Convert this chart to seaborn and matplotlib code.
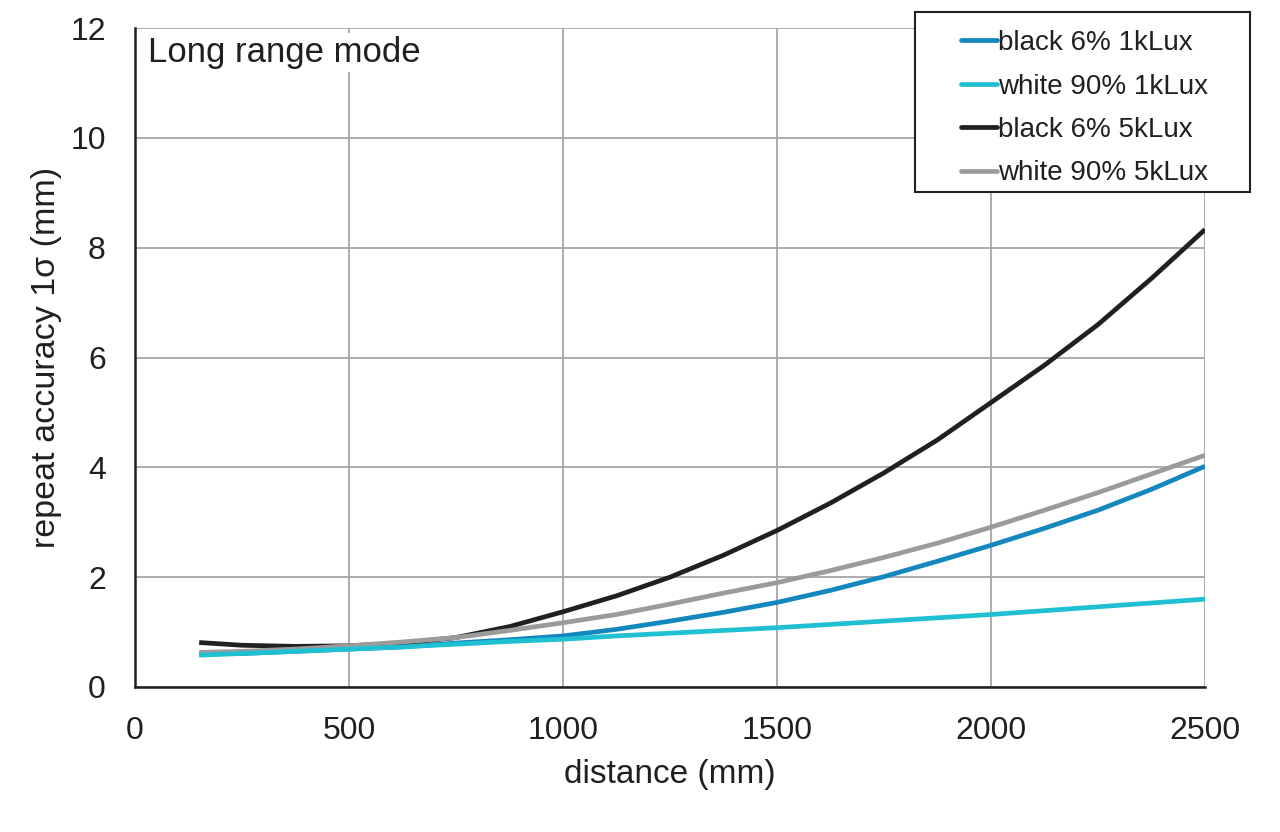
import matplotlib
matplotlib.use("Agg")
import matplotlib.pyplot as plt
from matplotlib.patches import Rectangle
import pandas as pd
import seaborn as sns

distance = [150, 250, 375, 500, 625, 750, 875, 1000, 1125, 1250,
            1375, 1500, 1625, 1750, 1875, 2000, 2125, 2250, 2375, 2500]

black_1k = [0.60, 0.61, 0.65, 0.69, 0.73, 0.80, 0.86, 0.93, 1.05, 1.20,
            1.36, 1.54, 1.76, 2.01, 2.29, 2.58, 2.89, 3.22, 3.60, 4.02]
white_1k = [0.58, 0.61, 0.65, 0.69, 0.73, 0.78, 0.83, 0.87, 0.93, 0.98,
            1.03, 1.08, 1.14, 1.20, 1.26, 1.32, 1.39, 1.46, 1.53, 1.60]
black_5k = [0.81, 0.76, 0.74, 0.75, 0.80, 0.90, 1.10, 1.37, 1.66, 2.00,
            2.40, 2.85, 3.35, 3.90, 4.50, 5.18, 5.86, 6.60, 7.44, 8.33]
white_5k = [0.63, 0.65, 0.69, 0.75, 0.82, 0.90, 1.03, 1.17, 1.32, 1.51,
            1.71, 1.90, 2.12, 2.36, 2.62, 2.91, 3.22, 3.54, 3.88, 4.22]

labels = ["black 6% 1kLux", "white 90% 1kLux", "black 6% 5kLux", "white 90% 5kLux"]
colors = ["#1487bf", "#20c0d3", "#231f20", "#9b9b9b"]

frames = []
for lab, vals in zip(labels, [black_1k, white_1k, black_5k, white_5k]):
    frames.append(pd.DataFrame({"distance": distance, "acc": vals, "series": lab}))
df = pd.concat(frames, ignore_index=True)

sns.set_style("white")
plt.rcParams["font.family"] = ["Liberation Sans", "DejaVu Sans"]

fig = plt.figure(figsize=(12.8, 8.32), dpi=100)
ax = fig.add_axes([135 / 1280, 1 - 687 / 832, 1070 / 1280, 659 / 832])

sns.lineplot(data=df, x="distance", y="acc", hue="series", hue_order=labels,
             palette=colors, linewidth=3.4, ax=ax, legend=True)

# cyan drawn above blue, grey above black
for line, z in zip(ax.lines, [2.1, 2.4, 2.2, 2.3]):
    line.set_zorder(z)
    line.set_solid_capstyle("butt")
    line.set_solid_joinstyle("round")

ax.set_xlim(0, 2500)
ax.set_ylim(0, 12)
ax.set_xticks([0, 500, 1000, 1500, 2000, 2500])
ax.set_yticks([0, 2, 4, 6, 8, 10, 12])
ax.grid(True, color="#a6a6a6", linewidth=1.3)
ax.set_axisbelow(True)

for side in ["top", "right"]:
    ax.spines[side].set_visible(False)
for side in ["left", "bottom"]:
    ax.spines[side].set_color("#231f20")
    ax.spines[side].set_linewidth(1.8)
    ax.spines[side].set_zorder(3)

ax.tick_params(axis="both", direction="out", length=6, width=1.5,
               color="#231f20", labelsize=23, labelcolor="#231f20")
ax.tick_params(axis="x", pad=15)
ax.tick_params(axis="y", pad=15)
ax.set_xlabel("distance (mm)", fontsize=24, color="#231f20", labelpad=9)
ax.set_ylabel("repeat accuracy 1σ (mm)", fontsize=24.5, color="#231f20", labelpad=6)

ax.text(30, 11.55, "Long range mode", fontsize=25, color="#231f20", va="center",
        ha="left", zorder=4,
        bbox=dict(facecolor="white", edgecolor="none", pad=2))

handles, labs = ax.get_legend_handles_labels()
ax.legend(handles, labs, loc="upper left",
          bbox_to_anchor=(961 / 1280, 1 - 30 / 832), bbox_transform=fig.transFigure,
          fontsize=20, frameon=False, handlelength=1.3, handletextpad=0.05,
          labelspacing=0.63, borderpad=0, borderaxespad=0)
leg = ax.get_legend()
leg.set_zorder(6)
for t in leg.get_texts():
    t.set_color("#231f20")
for h in leg.get_lines():
    h.set_linewidth(3.4)

# legend frame, wider than the legend entries
ax.add_patch(Rectangle((915 / 1280, 1 - 192 / 832), 335 / 1280, 180 / 832,
                       transform=fig.transFigure, clip_on=False, facecolor="white",
                       edgecolor="#231f20", linewidth=1.5, zorder=5))

fig.savefig("out.png", dpi=100)
